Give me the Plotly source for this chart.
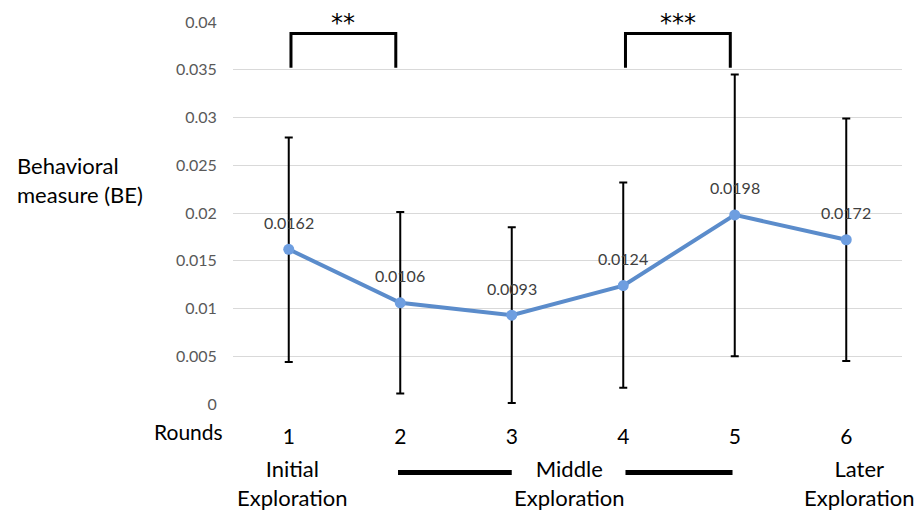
import plotly.graph_objects as go

rounds = [1, 2, 3, 4, 5, 6]
round_labels = ["1", "2", "3", "4", "5", "6"]
be_mean = [0.0162, 0.0106, 0.0093, 0.0124, 0.0198, 0.0172]
be_upper = [0.0279, 0.0201, 0.0185, 0.0232, 0.0345, 0.0299]
be_lower = [0.0044, 0.0011, 0.0001, 0.0017, 0.0050, 0.0045]
y_ticks = [0, 0.005, 0.01, 0.015, 0.02, 0.025, 0.03, 0.035, 0.04]
y_tick_labels = ["0", "0.005", "0.01", "0.015", "0.02", "0.025", "0.03", "0.035", "0.04"]
sig_pairs = [(1, 2, "**"), (4, 5, "***")]
phases = [("Initial<br>Exploration", 1.03), ("Middle<br>Exploration", 3.52), ("Later<br>Exploration", 6.12)]

FONT = "Lato"
err_plus = [u - m for u, m in zip(be_upper, be_mean)]
err_minus = [m - l for m, l in zip(be_mean, be_lower)]

fig = go.Figure()
fig.add_trace(go.Scatter(
    x=rounds, y=be_mean, mode="lines+markers",
    line=dict(color="#5B8CCB", width=4),
    marker=dict(color="#6E9EE0", size=11),
    error_y=dict(type="data", array=err_plus, arrayminus=err_minus,
                 color="black", thickness=2, width=4),
    showlegend=False, hoverinfo="skip",
))

annotations = []
for x, y in zip(rounds, be_mean):
    annotations.append(dict(x=x, y=y, xref="x", yref="y", text=f"{y:g}",
                            showarrow=False, yshift=27,
                            font=dict(family=FONT, size=16, color="#404040")))

shapes = []
for a, b, stars in sig_pairs:
    xa, xb = a + 0.02, b - 0.04
    shapes.append(dict(type="path", xref="x", yref="y",
                       path=f"M {xa} 0.0352 L {xa} 0.0388 L {xb} 0.0388 L {xb} 0.0352",
                       line=dict(color="black", width=3)))
    annotations.append(dict(x=(xa + xb) / 2, y=0.0399, xref="x", yref="y", text=stars,
                            showarrow=False, yanchor="middle",
                            font=dict(family="DejaVu Sans", size=24, color="black")))

# thick lines around "Middle Exploration"
for x0, x1 in [(1.98, 3.0), (4.02, 4.98)]:
    shapes.append(dict(type="line", xref="x", yref="paper", x0=x0, x1=x1,
                       y0=-0.179, y1=-0.179, line=dict(color="black", width=5)))

for text, x in phases:
    annotations.append(dict(x=x, y=-0.208, xref="x", yref="paper", text=text,
                            showarrow=False, xanchor="center", yanchor="middle",
                            font=dict(family=FONT, size=22, color="black")))

annotations.append(dict(x=-0.012, y=-0.0727, xref="paper", yref="paper", text="Rounds",
                        showarrow=False, xanchor="right", yanchor="middle",
                        font=dict(family=FONT, size=21, color="black")))
annotations.append(dict(x=-0.326, y=0.587, xref="paper", yref="paper",
                        text="Behavioral<br>measure (BE)", align="left",
                        showarrow=False, xanchor="left", yanchor="middle",
                        font=dict(family=FONT, size=22, color="black")))

fig.update_layout(
    width=922, height=519,
    margin=dict(l=233, r=20, t=18, b=115),
    paper_bgcolor="white", plot_bgcolor="white",
    xaxis=dict(range=[0.5, 6.5], tickvals=rounds, ticktext=round_labels,
               showgrid=False, zeroline=False, showline=False,
               ticks="outside", ticklen=14, tickcolor="rgba(0,0,0,0)",
               tickfont=dict(family=FONT, size=21, color="black")),
    yaxis=dict(range=[0, 0.04], tickvals=y_ticks, ticktext=y_tick_labels,
               showgrid=True, gridcolor="#D9D9D9", gridwidth=1,
               zeroline=False, showline=False,
               ticks="outside", ticklen=12, tickcolor="rgba(0,0,0,0)",
               tickfont=dict(family=FONT, size=16, color="#595959")),
    shapes=shapes, annotations=annotations,
)

fig.write_html("out.html")
